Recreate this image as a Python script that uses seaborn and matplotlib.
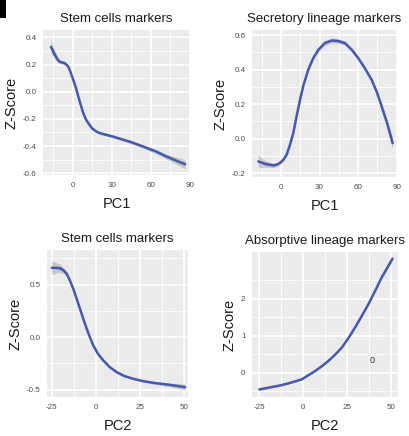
import numpy as np
import pandas as pd
import matplotlib
matplotlib.use("Agg")
import matplotlib.pyplot as plt
import seaborn as sns
from matplotlib.patches import Rectangle

# ---------------- data ----------------
pc1_stem_x = [-16.7, -13.6, -11.5, -9.8, -6.0, -3.3, -1.5, 0.5, 2.5, 4.4, 6.3, 8.2, 10.0, 12.0, 15.0, 18.4, 21.0, 25.0, 31.2, 44.0, 54.3, 64.0, 72.3, 79.0, 86.4]
pc1_stem_y = [0.33, 0.27, 0.235, 0.22, 0.21, 0.184, 0.14, 0.086, 0.03, -0.037, -0.1, -0.159, -0.2, -0.232, -0.27, -0.294, -0.305, -0.315, -0.331, -0.368, -0.404, -0.44, -0.478, -0.505, -0.534]
pc1_stem_se = [0.045, 0.03, 0.02, 0.015, 0.012, 0.012, 0.01, 0.01, 0.01, 0.01, 0.01, 0.01, 0.01, 0.01, 0.01, 0.01, 0.01, 0.01, 0.01, 0.012, 0.014, 0.016, 0.02, 0.025, 0.035]

pc1_sec_x = [-17.6, -12.4, -5.9, -3.5, -0.8, 2.0, 4.4, 7.0, 9.6, 12.0, 14.8, 17.5, 21.2, 25.0, 29.0, 34.0, 39.4, 44.5, 49.8, 55.0, 60.1, 65.0, 70.5, 74.5, 78.3, 82.5, 86.8]
pc1_sec_y = [-0.131, -0.145, -0.154, -0.15, -0.14, -0.12, -0.092, -0.035, 0.033, 0.125, 0.225, 0.31, 0.399, 0.465, 0.514, 0.553, 0.568, 0.565, 0.553, 0.515, 0.466, 0.41, 0.341, 0.27, 0.187, 0.09, -0.025]
pc1_sec_se = [0.035, 0.02, 0.012, 0.011, 0.01, 0.01, 0.01, 0.01, 0.01, 0.01, 0.01, 0.01, 0.01, 0.011, 0.012, 0.014, 0.015, 0.014, 0.012, 0.011, 0.01, 0.01, 0.012, 0.014, 0.018, 0.024, 0.035]

pc2_stem_x = [-25.0, -22.5, -20.3, -18.3, -16.5, -14.6, -12.8, -10.9, -9.0, -7.1, -5.2, -3.3, -1.5, 1.2, 4.2, 7.8, 11.7, 16.0, 21.2, 26.5, 32.5, 42.0, 50.4]
pc2_stem_y = [0.66, 0.66, 0.656, 0.635, 0.602, 0.535, 0.459, 0.365, 0.269, 0.17, 0.079, -0.005, -0.08, -0.16, -0.223, -0.285, -0.333, -0.37, -0.397, -0.418, -0.435, -0.455, -0.476]
pc2_stem_se = [0.065, 0.05, 0.04, 0.03, 0.02, 0.015, 0.012, 0.011, 0.01, 0.01, 0.01, 0.01, 0.01, 0.01, 0.01, 0.01, 0.01, 0.01, 0.01, 0.011, 0.012, 0.018, 0.03]

pc2_abs_x = [-25.0, -17.9, -13.0, -8.4, -4.5, -0.8, 2.9, 6.8, 10.6, 14.4, 18.2, 22.0, 25.8, 29.6, 33.4, 37.2, 41.0, 44.8, 48.0, 50.9]
pc2_abs_y = [-0.455, -0.39, -0.345, -0.29, -0.235, -0.18, -0.07, 0.045, 0.175, 0.32, 0.49, 0.68, 0.94, 1.23, 1.54, 1.86, 2.22, 2.59, 2.85, 3.09]
pc2_abs_se = [0.03, 0.02, 0.018, 0.015, 0.015, 0.015, 0.015, 0.015, 0.015, 0.015, 0.018, 0.02, 0.02, 0.02, 0.022, 0.025, 0.028, 0.03, 0.035, 0.04]

titles = ["Stem cells markers", "Secretory lineage markers",
          "Stem cells markers", "Absorptive lineage markers"]
xlabels = ["PC1", "PC1", "PC2", "PC2"]

pc1_ticks = [0, 30, 60, 90]
pc2_ticks = [-25, 0, 25, 50]
y1_ticks = [-0.6, -0.4, -0.2, 0.0, 0.2, 0.4]
y2_ticks = [-0.2, 0.0, 0.2, 0.4, 0.6]
y3_ticks = [-0.5, 0.0, 0.5]
y4_ticks = [0, 1, 2]
y1_labels = ["-0.6", "-0.4", "-0.2", "0.0", "0.2", "0.4"]
y2_labels = ["-0.2", "0.0", "0.2", "0.4", "0.6"]
y3_labels = ["-0.5", "0.0", "0.5"]
y4_labels = ["0", "1", "2"]

# ---------------- style ----------------
sns.set_theme(style="darkgrid", rc={
    "axes.facecolor": "#EBEBEB",
    "grid.color": "white",
    "figure.facecolor": "white",
})
plt.rcParams["font.family"] = ["Liberation Sans", "DejaVu Sans"]

LINE = "#4659AE"
BAND = "#9A9A9A"

fig = plt.figure(figsize=(4.10, 4.36), dpi=100)
W, H = 410, 436

def axpos(x0, y0, x1, y1):
    return [x0 / W, 1 - y1 / H, (x1 - x0) / W, (y1 - y0) / H]

panels = [
    dict(pos=axpos(43, 30, 190, 175), x=pc1_stem_x, y=pc1_stem_y, se=pc1_stem_se,
         xlim=(-22.8, 90.2), ylim=(-0.613, 0.454), xt=pc1_ticks, yt=y1_ticks, yl=y1_labels),
    dict(pos=axpos(252, 30, 397, 177), x=pc1_sec_x, y=pc1_sec_y, se=pc1_sec_se,
         xlim=(-22.5, 90.2), ylim=(-0.221, 0.629), xt=pc1_ticks, yt=y2_ticks, yl=y2_labels),
    dict(pos=axpos(47, 250, 188, 397), x=pc2_stem_x, y=pc2_stem_y, se=pc2_stem_se,
         xlim=(-27.7, 52.1), ylim=(-0.57, 0.83), xt=pc2_ticks, yt=y3_ticks, yl=y3_labels),
    dict(pos=axpos(252, 252, 398, 397), x=pc2_abs_x, y=pc2_abs_y, se=pc2_abs_se,
         xlim=(-29.2, 54.0), ylim=(-0.66, 3.27), xt=pc2_ticks, yt=y4_ticks, yl=y4_labels),
]

for i, p in enumerate(panels):
    ax = fig.add_axes(p["pos"])
    df = pd.DataFrame({"x": p["x"], "y": p["y"], "se": p["se"]})
    ax.fill_between(df["x"], df["y"] - df["se"], df["y"] + df["se"],
                    color=BAND, alpha=0.45, lw=0, zorder=2)
    sns.lineplot(data=df, x="x", y="y", ax=ax, color=LINE, linewidth=1.8,
                 sort=False, zorder=3)
    xt = p["xt"]
    yt = p["yt"]
    ax.set_xticks(xt)
    ax.set_xticklabels([str(v) for v in xt])
    ax.set_yticks(yt)
    ax.set_yticklabels(p["yl"])
    xm = [(a + b) / 2 for a, b in zip([xt[0] - (xt[1] - xt[0])] + xt, xt + [xt[-1] + (xt[1] - xt[0])])]
    ym = [(a + b) / 2 for a, b in zip([yt[0] - (yt[1] - yt[0])] + yt, yt + [yt[-1] + (yt[1] - yt[0])])]
    ax.set_xticks(xm, minor=True)
    ax.set_yticks(ym, minor=True)
    ax.set_xlim(*p["xlim"])
    ax.set_ylim(*p["ylim"])
    ax.grid(which="major", color="white", linewidth=1.2)
    ax.grid(which="minor", color="white", linewidth=0.6)
    ax.tick_params(which="minor", length=0)
    ax.tick_params(which="major", length=2.2, width=0.6, color="#444444",
                   labelsize=5.8, labelcolor="#4D4D4D", pad=2.5)
    for s in ax.spines.values():
        s.set_visible(False)
    ax.set_title(titles[i], fontsize=9.5, color="#1A1A1A", pad=6)
    ax.set_xlabel(xlabels[i], fontsize=10.5, color="#1A1A1A", labelpad=6)
    ax.set_ylabel("Z-Score", fontsize=10.5, color="#1A1A1A", labelpad=3)
    if i == 3:
        ax.text(39.2, 0.33, "0", fontsize=6.5, color="#333333", ha="center", va="center")

fig.patches.append(Rectangle((0, 1 - 18 / H), 6 / W, 18 / H, transform=fig.transFigure,
                             facecolor="black", edgecolor="none"))

fig.savefig("out.png", dpi=100)
